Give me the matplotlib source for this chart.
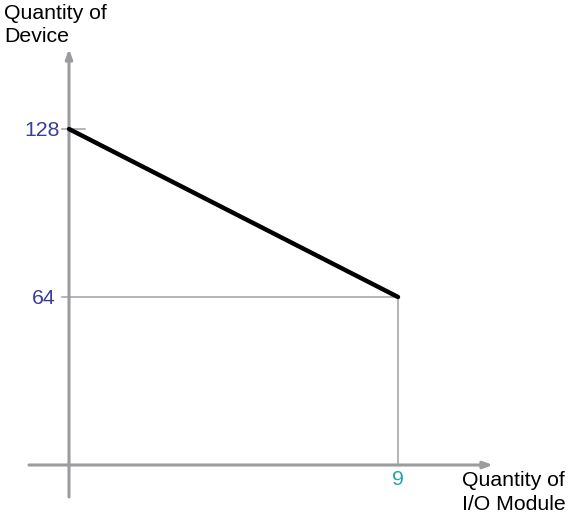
import matplotlib
matplotlib.use("Agg")
import matplotlib.pyplot as plt

# data
x_vals = [0, 9]
y_vals = [128, 64]
y_ticks = [128, 64]
x_ticks = [9]
x_label = "Quantity of\nI/O Module"
y_label = "Quantity of\nDevice"

plt.rcParams['font.family'] = ['Liberation Sans', 'DejaVu Sans']

fig = plt.figure(figsize=(5.68, 5.14), dpi=100)
ax = fig.add_axes([0, 0, 1, 1])
sx = 329 / 9.0
sy = 336 / 128.0
ax.set_xlim(-69 / sx, (568 - 69) / sx)
ax.set_ylim(-(514 - 465) / sy, 465 / sy)
ax.axis('off')

axis_col = '#9a9ca0'
guide_col = '#a0a0a0'
fs = 15.3

# axes with arrows
ax.annotate('', xy=(-69 / sx + 493 / sx, 0), xytext=(-69 / sx + 29 / sx, 0),
            arrowprops=dict(arrowstyle='-|>,head_length=0.55,head_width=0.2',
                            color=axis_col, lw=2.2, shrinkA=0, shrinkB=0))
ax.annotate('', xy=(0, (465 - 49) / sy), xytext=(0, (465 - 497) / sy),
            arrowprops=dict(arrowstyle='-|>,head_length=0.55,head_width=0.2',
                            color=axis_col, lw=2.2, shrinkA=0, shrinkB=0))

# guides
ax.plot([-7 / sx, x_vals[1]], [y_vals[1], y_vals[1]], color=guide_col, lw=1.1, zorder=2)
ax.plot([x_vals[1], x_vals[1]], [0, y_vals[1]], color=guide_col, lw=1.1, zorder=2)
ax.plot([-7 / sx, 16 / sx], [y_vals[0], y_vals[0]], color=guide_col, lw=1.1, zorder=2)

# main line
ax.plot(x_vals, y_vals, color='black', lw=3.2, solid_capstyle='round', zorder=3)

# tick labels
for yt, off in zip(y_ticks, [-9, -13]):
    ax.text(off / sx, yt - 1 / sy, str(yt), color='#3a3d9a', fontsize=fs,
            ha='right', va='center')
for xt in x_ticks:
    ax.text(xt, -5 / sy, str(xt), color='#2aa3a3', fontsize=fs,
            ha='center', va='top')

# axis labels
ax.text(-65 / sx, (465 - 4) / sy, y_label, fontsize=fs, ha='left', va='top',
        linespacing=1.3)
ax.text(393 / sx, -6 / sy, x_label, fontsize=fs, ha='left', va='top',
        linespacing=1.3)

fig.savefig('out.png', dpi=100)
